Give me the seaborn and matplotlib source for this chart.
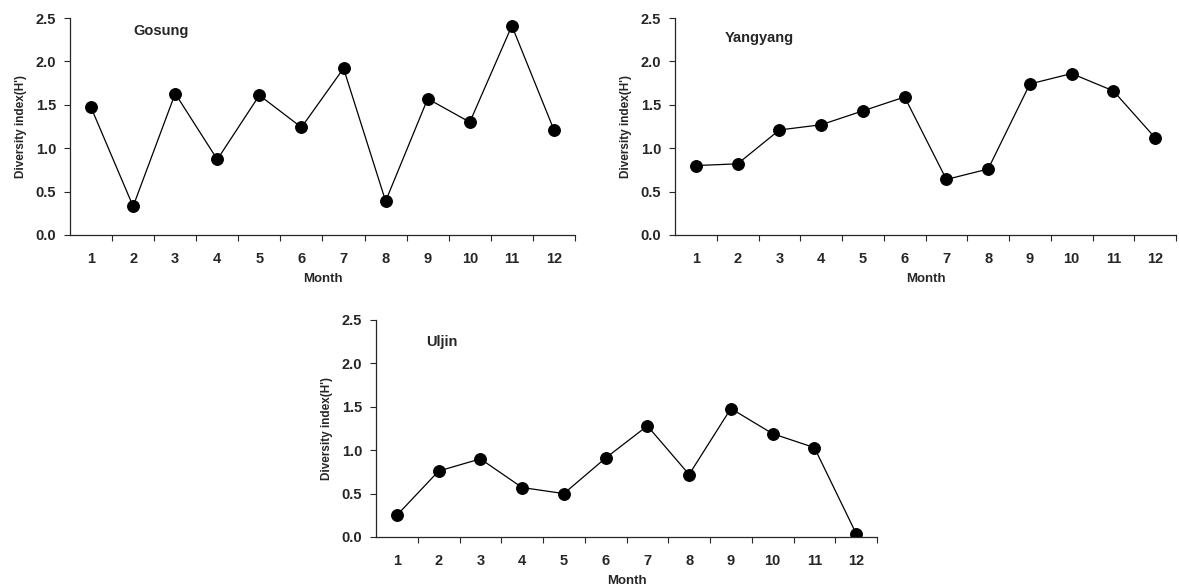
import matplotlib
matplotlib.use("Agg")
import matplotlib.pyplot as plt
import numpy as np
import pandas as pd
import seaborn as sns

sns.set_style("ticks")
plt.rcParams["font.family"] = ["Liberation Sans", "DejaVu Sans"]
plt.rcParams["font.weight"] = "bold"

months = list(range(1, 13))
gosung = [1.47, 0.33, 1.63, 0.87, 1.61, 1.24, 1.92, 0.39, 1.57, 1.30, 2.41, 1.21]
yangyang = [0.80, 0.82, 1.21, 1.27, 1.43, 1.59, 0.64, 0.76, 1.74, 1.86, 1.66, 1.12]
uljin = [0.25, 0.76, 0.90, 0.57, 0.50, 0.91, 1.28, 0.72, 1.48, 1.19, 1.03, 0.04]

sites = ["Gosung", "Yangyang", "Uljin"]
series = [gosung, yangyang, uljin]
label_pos = [(0.125, 0.94), (0.10, 0.91), (0.10, 0.90)]

fig = plt.figure(figsize=(11.79, 5.88), dpi=100)
W, H = 1179, 588
boxes = [(70, 575, 18, 235), (675, 1176, 18, 235), (376, 877, 320, 537)]

for (l, r, t, b), name, vals, (tx, ty) in zip(boxes, sites, series, label_pos):
    ax = fig.add_axes([l / W, 1 - b / H, (r - l) / W, (b - t) / H])
    df = pd.DataFrame({"Month": months, "H": vals})
    sns.lineplot(data=df, x="Month", y="H", marker="o", color="black",
                 linewidth=0.9, markersize=8.5, markeredgecolor="black", ax=ax)
    ax.set_xlim(0.5, 12.5)
    ax.set_ylim(0, 2.5)
    ax.set_xticks(months)
    ax.set_xticklabels([str(m) for m in months], fontsize=10.5, fontweight="bold")
    ax.set_xticks(np.arange(1.5, 12.6, 1.0), minor=True)
    ax.tick_params(axis="x", which="major", length=0, pad=12)
    ax.tick_params(axis="x", which="minor", length=4, width=0.8, direction="out")
    ax.set_yticks([0, 0.5, 1.0, 1.5, 2.0, 2.5])
    ax.set_yticklabels(["0.0", "0.5", "1.0", "1.5", "2.0", "2.5"], fontsize=10.5, fontweight="bold")
    ax.tick_params(axis="y", length=4, width=0.8, direction="out", pad=6)
    for s in ["top", "right"]:
        ax.spines[s].set_visible(False)
    for s in ["left", "bottom"]:
        ax.spines[s].set_linewidth(0.9)
    ax.set_xlabel("Month", fontsize=9.5, fontweight="bold", labelpad=5)
    ax.set_ylabel("Diversity index(H')", fontsize=8.5, fontweight="bold", labelpad=6)
    ax.text(tx, ty, name, transform=ax.transAxes, fontsize=10.5, fontweight="bold",
            ha="left", va="center")

fig.savefig("out.png", dpi=100)
